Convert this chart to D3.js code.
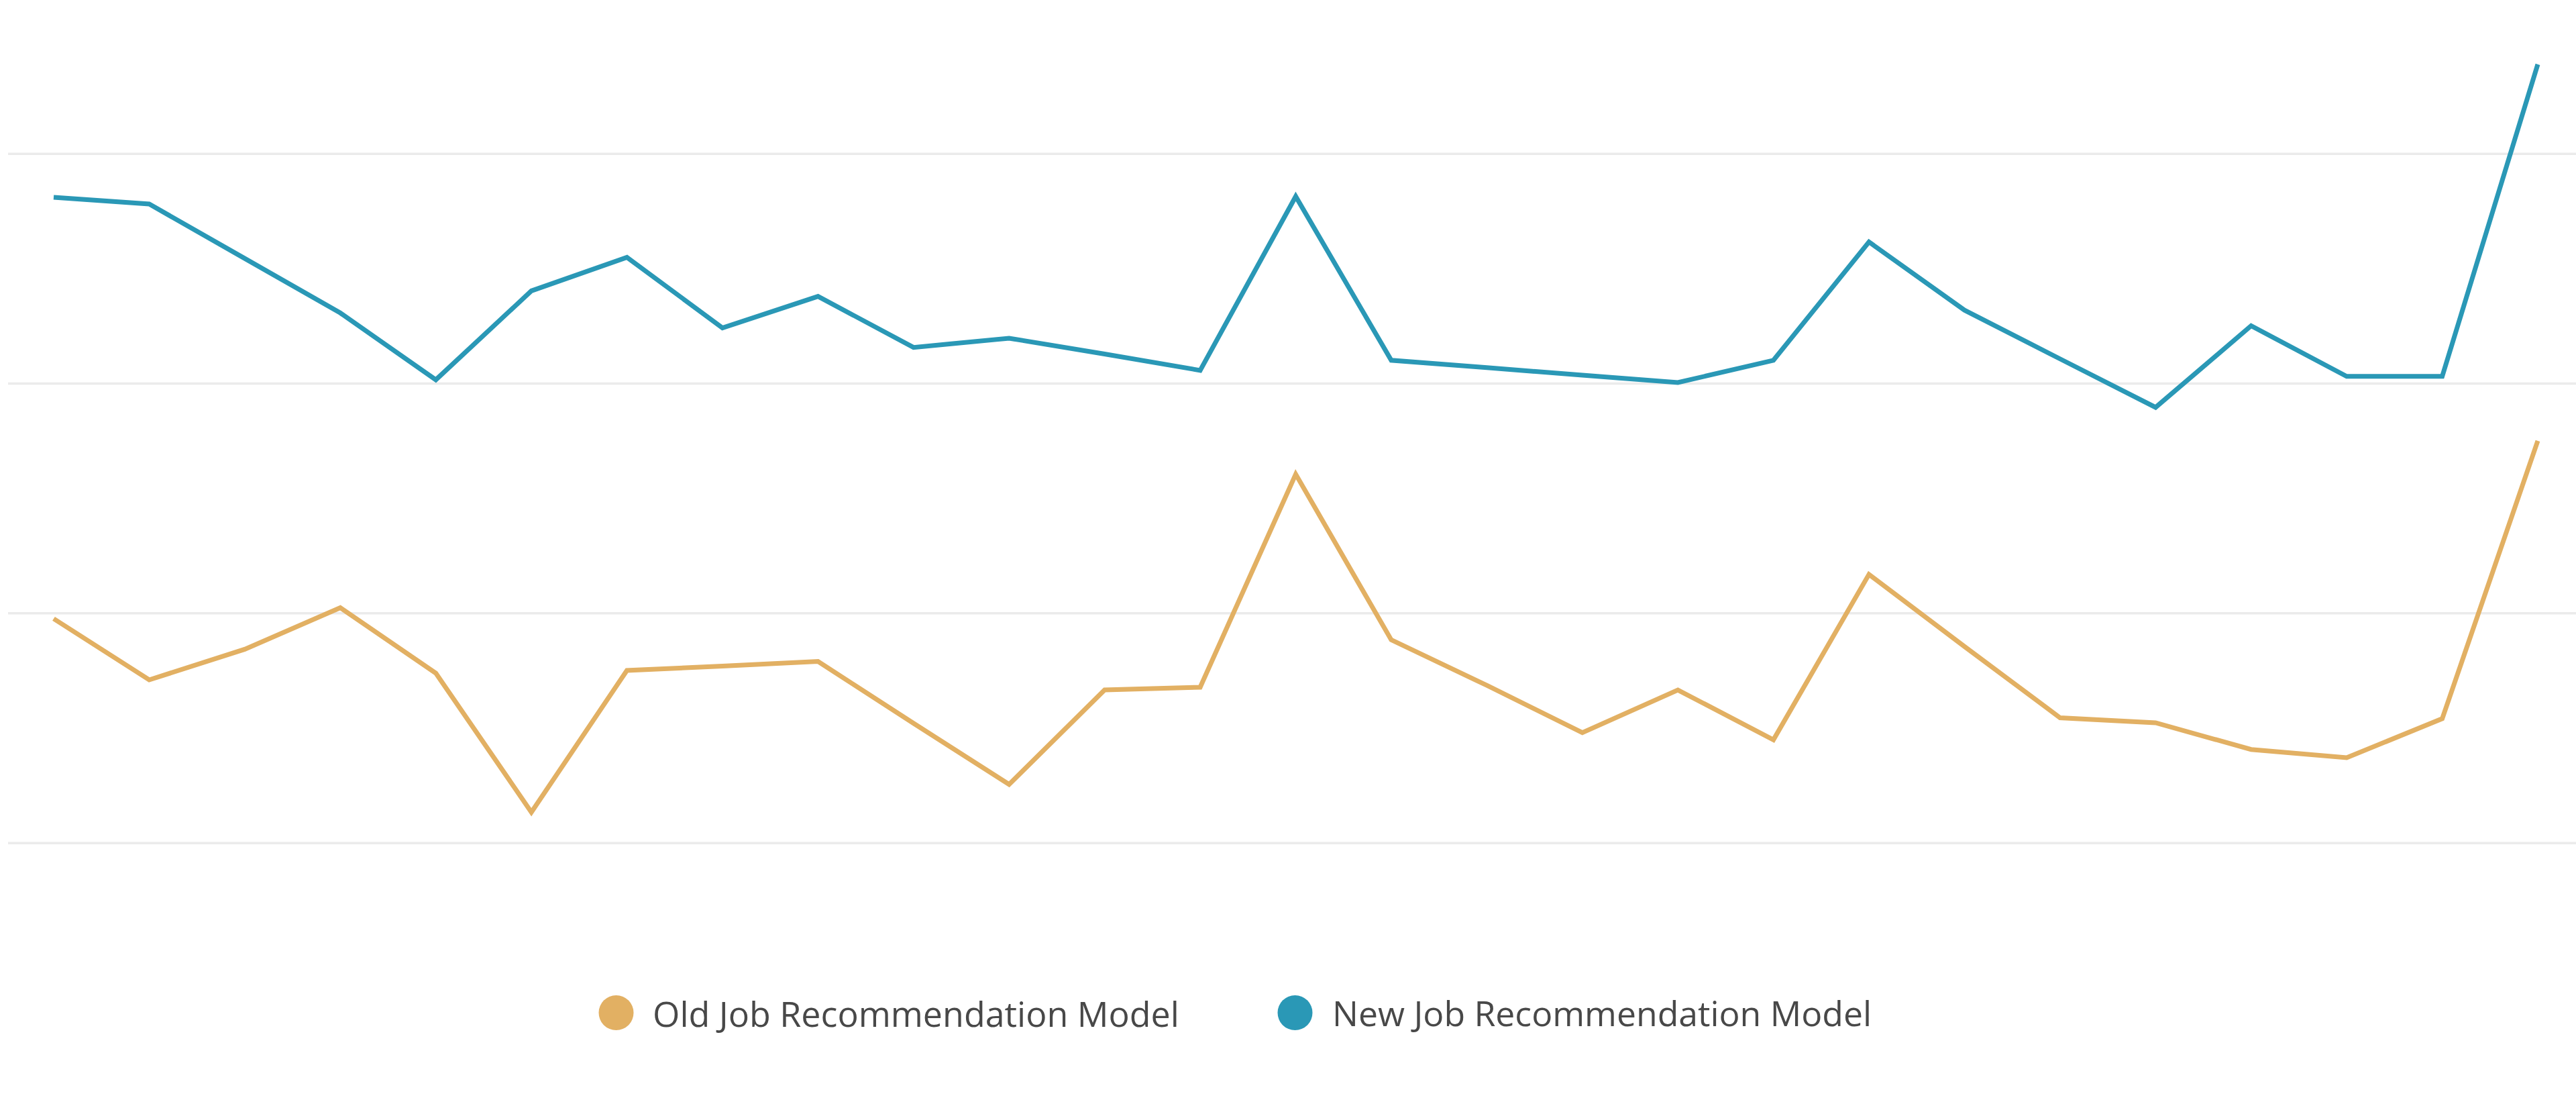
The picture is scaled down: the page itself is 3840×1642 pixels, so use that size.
<!DOCTYPE html>
<html>
<head>
<meta charset="utf-8">
<script src="https://cdn.jsdelivr.net/npm/d3@7"></script>
<style>
  html, body { margin: 0; padding: 0; background: #ffffff; }
  svg { display: block; }
</style>
</head>
<body>
<svg id="chart" width="3840" height="1642"></svg>
<script>
// ---- data ----
const periods = [1, 2, 3, 4, 5, 6, 7, 8, 9, 10, 11, 12, 13, 14, 15, 16, 17, 18, 19, 20, 21, 22, 23, 24, 25, 26, 27];
const oldModel = [19.75, 17.09, 18.42, 20.23, 17.38, 11.33, 17.5, 17.69, 17.89, 15.2, 12.54, 16.65, 16.77, 26.04, 18.83, 16.85, 14.79, 16.65, 14.48, 21.68, 18.54, 15.44, 15.22, 14.06, 13.7, 15.4, 27.49];
const newModel = [38.09, 37.8, 35.43, 33.06, 30.15, 34.02, 35.48, 32.41, 33.78, 31.56, 31.96, 31.27, 30.56, 38.13, 31.0, 30.68, 30.35, 30.03, 31.0, 36.15, 33.18, 31.06, 28.95, 32.5, 30.3, 30.3, 43.88];
const gridTicks = [10, 20, 30, 40];
const seriesNames = ["Old Job Recommendation Model", "New Job Recommendation Model"];
const seriesColors = ["#e2b063", "#2a98b6"];

// ---- layout ----
const W = 3840, H = 1642;
const svg = d3.select("#chart");

const x = d3.scalePoint().domain(periods).range([80, 3783]);
const y = d3.scaleLinear().domain([10, 40]).range([1255.7, 228.7]);

// gridlines
const grid = svg.append("g")
  .attr("transform", "translate(12,0)")
  .call(d3.axisLeft(y).tickValues(gridTicks).tickSize(-(W - 12)).tickFormat(""));
grid.select(".domain").remove();
grid.selectAll(".tick line").attr("stroke", "#ebebeb").attr("stroke-width", 3.5);

// lines
const line = d3.line().x((d, i) => x(periods[i])).y(d => y(d));
[oldModel, newModel].forEach((vals, k) => {
  svg.append("path")
    .datum(vals)
    .attr("fill", "none")
    .attr("stroke", seriesColors[k])
    .attr("stroke-width", 7)
    .attr("stroke-linejoin", "miter")
    .attr("d", line);
});

// legend
const legendY = 1509;
const legendItems = [
  { cx: 918.5, tx: 973, end: 1758 },
  { cx: 1930.5, tx: 1986, end: 2790 }
];
const legend = svg.append("g");
legendItems.forEach((it, k) => {
  legend.append("circle")
    .attr("cx", it.cx).attr("cy", legendY).attr("r", 26)
    .attr("fill", seriesColors[k]);
  const t = legend.append("text")
    .attr("x", it.tx).attr("y", legendY)
    .attr("dominant-baseline", "central")
    .attr("fill", "#484848")
    .style("font-family", "'Open Sans', sans-serif")
    .style("font-size", "52px")
    .text(seriesNames[k]);
  const len = t.node().getComputedTextLength();
  const target = it.end - it.tx;
  t.style("font-size", (52 * target / len).toFixed(2) + "px");
});
</script>
</body>
</html>
